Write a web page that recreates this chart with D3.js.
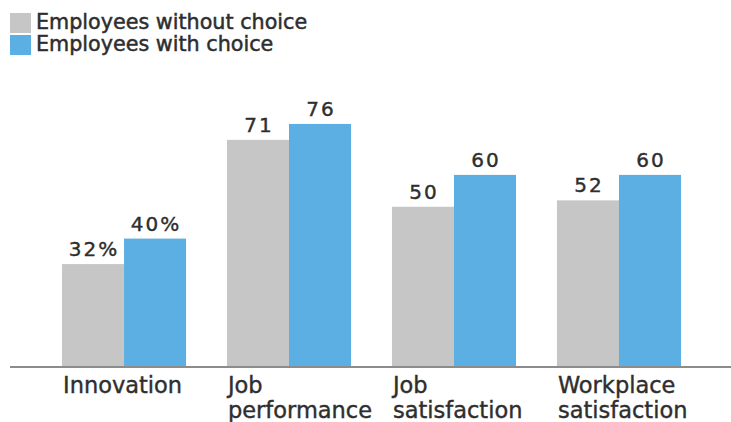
<!DOCTYPE html>
<html>
<head>
<meta charset="utf-8">
<script src="https://cdn.jsdelivr.net/npm/d3@7"></script>
<style>
  body { margin: 0; background: #fff; }
  svg { display: block; font-family: "DejaVu Sans", sans-serif; }
</style>
</head>
<body>
<div id="chart"></div>
<script>
// categories, wrapped as on the picture
const categories = ['Innovation', 'Job performance', 'Job satisfaction', 'Workplace satisfaction'];
const categoryLines = [['Innovation'], ['Job', 'performance'], ['Job', 'satisfaction'], ['Workplace', 'satisfaction']];
const seriesNames = ['Employees without choice', 'Employees with choice'];
const withoutChoice = [32, 71, 50, 52];
const withChoice = [40, 76, 60, 60];
const valueLabels = [['32%', '71', '50', '52'], ['40%', '76', '60', '60']];
const colors = ['#c6c6c6', '#5cafe2'];

const width = 731, height = 422;
const baseY = 366;
const textColor = '#2e2e2e';

const svg = d3.select('#chart').append('svg').attr('width', width).attr('height', height);

const x0 = d3.scaleBand().domain(categories).range([62, 681]).paddingInner(0.248).paddingOuter(0);
const x1 = d3.scaleBand().domain([0, 1]).range([0, x0.bandwidth()]);
const y = d3.scaleLinear().domain([0, 100]).range([baseY, baseY - 318.5]);

const series = [withoutChoice, withChoice];

// bars + value labels
series.forEach((vals, s) => {
  svg.append('g').selectAll('rect').data(vals).join('rect')
    .attr('x', (d, i) => x0(categories[i]) + x1(s))
    .attr('y', d => y(d))
    .attr('width', x1.bandwidth())
    .attr('height', d => baseY - y(d))
    .attr('fill', colors[s]);

  svg.append('g').selectAll('text').data(vals).join('text')
    .attr('x', (d, i) => x0(categories[i]) + x1(s) + x1.bandwidth() / 2 + 1)
    .attr('y', d => y(d) - 8)
    .attr('text-anchor', 'middle')
    .attr('font-size', 20)
    .attr('letter-spacing', 2)
    .attr('fill', textColor)
    .attr('stroke', textColor).attr('stroke-width', 0.4)
    .text((d, i) => valueLabels[s][i]);
});

// baseline
svg.append('line')
  .attr('x1', 10).attr('x2', width)
  .attr('y1', baseY + 1).attr('y2', baseY + 1)
  .attr('stroke', '#8c8c8c').attr('stroke-width', 2);

// category labels
const labels = svg.append('g').selectAll('text').data(categories).join('text')
  .attr('y', 393)
  .attr('font-size', 22.5)
  .attr('fill', textColor)
  .attr('stroke', textColor).attr('stroke-width', 0.4);
labels.each(function (d, i) {
  d3.select(this).selectAll('tspan').data(categoryLines[i]).join('tspan')
    .attr('x', x0(d) + 1)
    .attr('dy', (t, j) => j === 0 ? 0 : 25)
    .text(t => t);
});

// legend
const legend = svg.append('g').selectAll('g').data(seriesNames).join('g')
  .attr('transform', (d, i) => `translate(10,${13 + i * 22})`);
legend.append('rect').attr('width', 21).attr('height', 20).attr('fill', (d, i) => colors[i]);
legend.append('text').attr('x', 26).attr('y', 16)
  .attr('font-size', 20.7).attr('fill', textColor)
  .attr('stroke', textColor).attr('stroke-width', 0.5)
  .text(d => d);
</script>
</body>
</html>
